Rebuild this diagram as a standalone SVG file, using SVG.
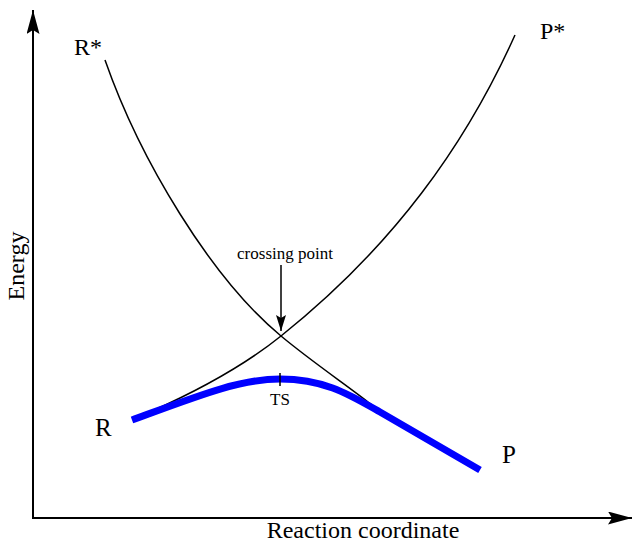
<svg xmlns="http://www.w3.org/2000/svg" width="634" height="544" viewBox="0 0 634 544">
<style>
.t{font-family:"Liberation Serif","Times New Roman",serif;fill:#000}
.c{fill:none;stroke:#000;stroke-width:1.5}
</style>
<defs>
<marker id="ah" markerWidth="16" markerHeight="10" refX="16" refY="5" orient="auto" markerUnits="userSpaceOnUse"><path d="M0,0 L16,5 L0,10 L3,5 z" fill="#000"/></marker>
<marker id="big" markerWidth="24" markerHeight="13" refX="24" refY="6.5" orient="auto" markerUnits="userSpaceOnUse"><path d="M0,0 L24,6.5 L0,13 L4,6.5 z" fill="#000"/></marker>
</defs>
<rect width="634" height="544" fill="#fff"/>
<g id="axes">
<path d="M33,518 V10" stroke="#000" stroke-width="2" fill="none" marker-end="url(#big)"/>
<path d="M32,518 H632" stroke="#000" stroke-width="2" fill="none" marker-end="url(#big)"/>
</g>
<g id="connectors">
<path class="c" d="M105,60 C140,160 211,278 281,336 C311,361 345,384 368,402 L382,412"/>
<path class="c" d="M515,35 C465.5,145 393.5,246 281,336 C245,365 195,392 150,412"/>
<path d="M132,420 C200,395 240,379 280,379 C325,379 350,395 380,412 L480,470" fill="none" stroke="#0000ff" stroke-width="7"/>
<path d="M280,373 V386" stroke="#000" stroke-width="1.5"/>
<path d="M281,265 V331" stroke="#000" stroke-width="1.5" marker-end="url(#ah)"/>
</g>
<g id="labels">
<text class="t" x="74" y="55" font-size="24">R*</text>
<text class="t" x="540" y="39" font-size="24">P*</text>
<text class="t" x="95" y="436" font-size="25">R</text>
<text class="t" x="502" y="463" font-size="25">P</text>
<text class="t" x="280" y="405" font-size="17" text-anchor="middle">TS</text>
<text class="t" x="285" y="259" font-size="17" text-anchor="middle">crossing point</text>
<text class="t" x="363" y="538" font-size="24" text-anchor="middle">Reaction coordinate</text>
<text class="t" font-size="24" text-anchor="middle" transform="translate(24,266) rotate(-90)">Energy</text>
</g>
</svg>
